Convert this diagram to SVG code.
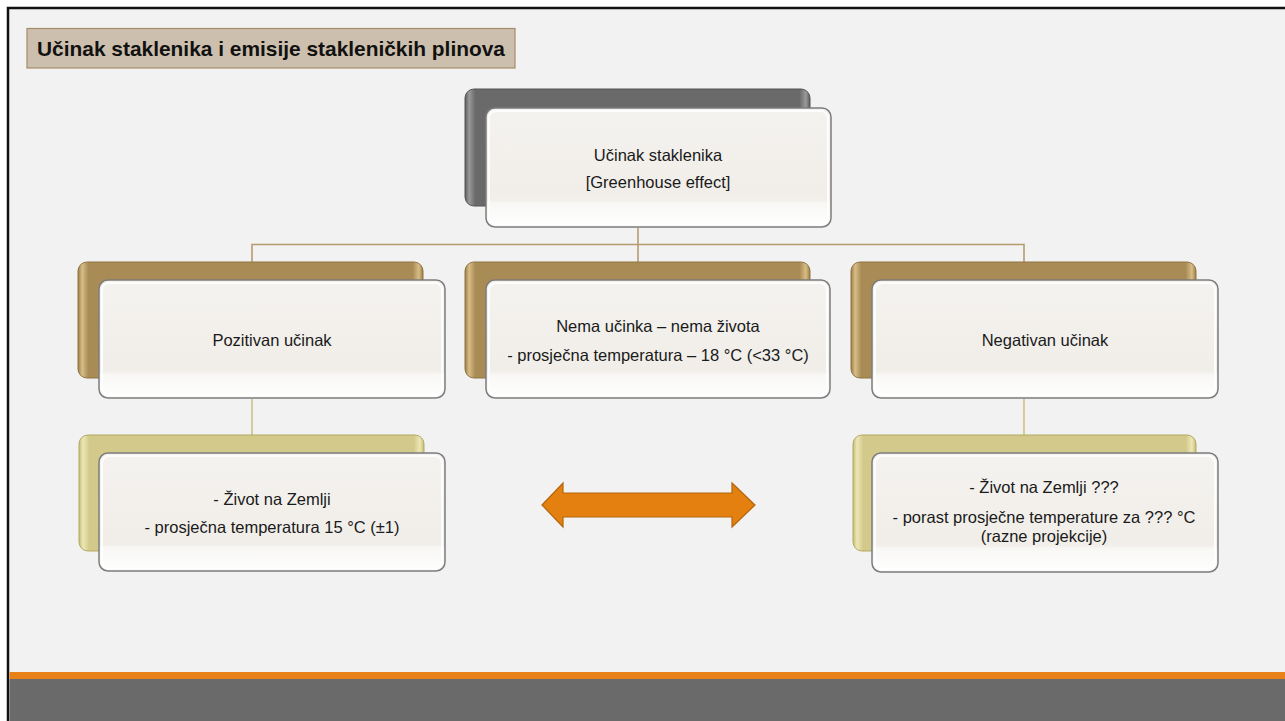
<svg xmlns="http://www.w3.org/2000/svg" width="1285" height="721" viewBox="0 0 1285 721">
  <style>
    .lbl { font-family: "Liberation Sans", Arial, sans-serif; font-size: 16.5px; fill: #1a1a1a; text-anchor: middle; }
    .ttl { font-family: "Liberation Sans", Arial, sans-serif; font-size: 20.5px; font-weight: bold; fill: #111; }
    .front { fill: url(#glass); stroke: #7c7c7c; stroke-width: 1.5; }
    .frontHi { fill: none; stroke: #ffffff; stroke-width: 2; stroke-opacity: 0.85; }
    .shine { fill: url(#shine); }
    .back-gray { fill: url(#gGray); stroke: #555; stroke-width: 1; }
    .back-gold { fill: url(#gGold); stroke: #8f7440; stroke-width: 1; }
    .back-olive { fill: url(#gOlive); stroke: #b3a964; stroke-width: 1; }
    .link { fill: none; stroke: #b59c70; stroke-width: 1.6; }
    .link2 { fill: none; stroke: #cdc282; stroke-width: 1.6; }
  </style>
  <defs>
    <linearGradient id="glass" x1="0" y1="0" x2="0" y2="1">
      <stop offset="0" stop-color="#f4f2ef"/>
      <stop offset="0.78" stop-color="#f1eee9"/>
      <stop offset="0.8" stop-color="#f7f6f3"/>
      <stop offset="1" stop-color="#fbfbfa"/>
    </linearGradient>
    <linearGradient id="shine" x1="0" y1="0" x2="0" y2="1">
      <stop offset="0" stop-color="#ffffff" stop-opacity="0"/>
      <stop offset="1" stop-color="#ffffff" stop-opacity="0.6"/>
    </linearGradient>
    <linearGradient id="gGray" x1="0" y1="0" x2="1" y2="0">
      <stop offset="0" stop-color="#5c5c5c"/>
      <stop offset="0.012" stop-color="#9a9a9a"/>
      <stop offset="0.03" stop-color="#6a6a6a"/>
      <stop offset="0.97" stop-color="#6a6a6a"/>
      <stop offset="0.988" stop-color="#9a9a9a"/>
      <stop offset="1" stop-color="#5c5c5c"/>
    </linearGradient>
    <linearGradient id="gGold" x1="0" y1="0" x2="1" y2="0">
      <stop offset="0" stop-color="#9a7d48"/>
      <stop offset="0.012" stop-color="#d8bd86"/>
      <stop offset="0.03" stop-color="#a98b55"/>
      <stop offset="0.97" stop-color="#a98b55"/>
      <stop offset="0.988" stop-color="#d8bd86"/>
      <stop offset="1" stop-color="#9a7d48"/>
    </linearGradient>
    <linearGradient id="gOlive" x1="0" y1="0" x2="1" y2="0">
      <stop offset="0" stop-color="#c6bc78"/>
      <stop offset="0.012" stop-color="#eee7b6"/>
      <stop offset="0.03" stop-color="#d2c98a"/>
      <stop offset="0.97" stop-color="#d2c98a"/>
      <stop offset="0.988" stop-color="#eee7b6"/>
      <stop offset="1" stop-color="#c6bc78"/>
    </linearGradient>
  </defs>

  <!-- page and slide frame -->
  <rect x="0" y="0" width="1285" height="721" fill="#ffffff"/>
  <rect x="9" y="9" width="1276" height="712" fill="#f2f2f2"/>
  <path d="M8 721 V8 H1285" fill="none" stroke="#111" stroke-width="2.5"/>
  <rect x="9.5" y="672" width="1275.5" height="7" fill="#e8811a"/>
  <rect x="9.5" y="679" width="1275.5" height="42" fill="#6a6a6a"/>

  <!-- title -->
  <g id="title">
    <rect x="27" y="28.5" width="488" height="39.5" fill="#cdbfad" stroke="#a38c68" stroke-width="1.2"/>
    <text class="ttl" x="37" y="55.5" textLength="468" lengthAdjust="spacingAndGlyphs">Učinak staklenika i emisije stakleničkih plinova</text>
  </g>

  <!-- connectors -->
  <g id="connectors">
    <path class="link" d="M638 228 V244.5 M252 262 V244.5 H1024 V262 M638 244.5 V262"/>
    <path class="link2" d="M252 399 V435 M1024 399 V435"/>
  </g>

  <!-- root -->
  <g id="node-root">
    <rect class="back-gray" x="465" y="89" width="345" height="117" rx="9"/>
    <rect class="front" x="486" y="108" width="345" height="119" rx="9"/>
    <rect class="frontHi" x="489" y="111" width="339" height="113" rx="7"/>
    <rect class="shine" x="490" y="195" width="337" height="28" rx="6"/>
    <text class="lbl" x="658" y="161">Učinak staklenika</text>
    <text class="lbl" x="658" y="188">[Greenhouse effect]</text>
  </g>

  <!-- second level -->
  <g id="node-positive">
    <rect class="back-gold" x="78" y="262" width="345" height="116" rx="9"/>
    <rect class="front" x="99" y="280" width="346" height="118" rx="9"/>
    <rect class="frontHi" x="102" y="283" width="340" height="112" rx="7"/>
    <rect class="shine" x="103" y="368" width="338" height="27" rx="6"/>
    <text class="lbl" x="272" y="346">Pozitivan učinak</text>
  </g>

  <g id="node-none">
    <rect class="back-gold" x="465" y="262" width="345" height="116" rx="9"/>
    <rect class="front" x="486" y="280" width="344" height="118" rx="9"/>
    <rect class="frontHi" x="489" y="283" width="338" height="112" rx="7"/>
    <rect class="shine" x="490" y="368" width="336" height="27" rx="6"/>
    <text class="lbl" x="658" y="332">Nema učinka – nema života</text>
    <text class="lbl" x="658" y="361">- prosječna temperatura – 18 °C (&lt;33 °C)</text>
  </g>

  <g id="node-negative">
    <rect class="back-gold" x="851" y="262" width="345" height="116" rx="9"/>
    <rect class="front" x="872" y="280" width="346" height="118" rx="9"/>
    <rect class="frontHi" x="875" y="283" width="340" height="112" rx="7"/>
    <rect class="shine" x="876" y="368" width="338" height="27" rx="6"/>
    <text class="lbl" x="1045" y="346">Negativan učinak</text>
  </g>

  <!-- third level -->
  <g id="node-life">
    <rect class="back-olive" x="79" y="435" width="345" height="116" rx="9"/>
    <rect class="front" x="99" y="453" width="346" height="118" rx="9"/>
    <rect class="frontHi" x="102" y="456" width="340" height="112" rx="7"/>
    <rect class="shine" x="103" y="541" width="338" height="27" rx="6"/>
    <text class="lbl" x="272" y="505">- Život na Zemlji</text>
    <text class="lbl" x="272" y="533">- prosječna temperatura 15 °C (±1)</text>
  </g>

  <g id="node-future">
    <rect class="back-olive" x="853" y="435" width="343" height="116" rx="9"/>
    <rect class="front" x="872" y="453" width="346" height="119" rx="9"/>
    <rect class="frontHi" x="875" y="456" width="340" height="113" rx="7"/>
    <rect class="shine" x="876" y="542" width="338" height="27" rx="6"/>
    <text class="lbl" x="1044" y="493">- Život na Zemlji ???</text>
    <text class="lbl" x="1044" y="523">- porast prosječne temperature za ??? °C</text>
    <text class="lbl" x="1044" y="542">(razne projekcije)</text>
  </g>

  <!-- double-headed arrow between the two outcomes -->
  <g id="arrow">
    <path d="M542 505 L563 483 V493 H732 V483 L755 505 L732 527 V517 H563 V527 Z" fill="#e3800f" stroke="#b5650c" stroke-width="1.2" stroke-linejoin="miter"/>
  </g>
</svg>
